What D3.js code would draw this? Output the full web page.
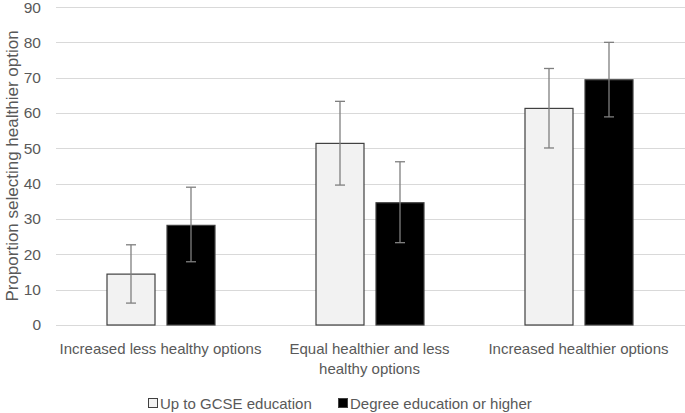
<!DOCTYPE html>
<html><head><meta charset="utf-8">
<script src="https://cdn.jsdelivr.net/npm/d3@7"></script>
<style>body{margin:0;background:#fff}svg{display:block}text{font-family:"Liberation Sans",Arial,sans-serif;fill:#595959}</style>
</head><body><svg id="c" width="685" height="413"></svg>
<script>
const categories = [["Increased less healthy options"], ["Equal healthier and less", "healthy options"], ["Increased healthier options"]];
const seriesNames = ["Up to GCSE education", "Degree education or higher"];
const gcse = [14.4, 51.4, 61.3];
const gcseLow = [6.2, 39.6, 50.1];
const gcseHigh = [22.7, 63.3, 72.6];
const degree = [28.2, 34.6, 69.4];
const degreeLow = [17.9, 23.3, 58.9];
const degreeHigh = [39.0, 46.2, 80.0];
const yTicks = [0,10,20,30,40,50,60,70,80,90];

const svg = d3.select("#c");
const m = {l:56, r:2, t:7, b:88};
const W = 685, H = 413;
const x = d3.scaleBand().domain(d3.range(categories.length)).range([m.l, W-m.r]);
const y = d3.scaleLinear().domain([0,90]).range([H-m.b, m.t]);
const x1 = d3.scaleBand().domain([0,1]).range([-54, 54]).paddingInner(0.2);

const fills = ["#f2f2f2", "#000000"];
const series = [
  {v:gcse, lo:gcseLow, hi:gcseHigh},
  {v:degree, lo:degreeLow, hi:degreeHigh}
];

// gridlines
svg.append("g").selectAll("line").data(yTicks).join("line")
  .attr("x1", m.l).attr("x2", W).attr("y1", d=>Math.round(y(d))+0.5).attr("y2", d=>Math.round(y(d))+0.5)
  .attr("stroke", "#d9d9d9").attr("stroke-width", 1);

// y tick labels
svg.append("g").selectAll("text").data(yTicks).join("text")
  .attr("x", 41).attr("y", d=>Math.max(y(d), 8)).attr("dy","0.35em").attr("text-anchor","end")
  .attr("font-size", 15.5).text(d=>d);

// y title
svg.append("text").attr("transform", `translate(18,${(m.t+H-m.b)/2}) rotate(-90)`)
  .attr("text-anchor","middle").attr("font-size", 17).text("Proportion selecting healthier option");

// bars
series.forEach((s, si) => {
  const g = svg.append("g");
  g.selectAll("rect").data(s.v).join("rect")
    .attr("x", (d,i)=>x(i)+x.bandwidth()/2 + x1(si) + 0.5)
    .attr("y", d=>y(d))
    .attr("width", x1.bandwidth())
    .attr("height", d=>y(0)-y(d))
    .attr("fill", fills[si]).attr("stroke", "#404040").attr("stroke-width", 1.2);
  const cx = i => x(i)+x.bandwidth()/2 + x1(si) + x1.bandwidth()/2 + 0.5;
  s.v.forEach((d,i)=>{
    const c = cx(i);
    g.append("line").attr("x1",c).attr("x2",c).attr("y1",y(s.lo[i])).attr("y2",y(s.hi[i])).attr("stroke","#7f7f7f").attr("stroke-width",1.3);
    [s.lo[i], s.hi[i]].forEach(e=>{
      g.append("line").attr("x1",c-5).attr("x2",c+5).attr("y1",y(e)).attr("y2",y(e)).attr("stroke","#7f7f7f").attr("stroke-width",1.3);
    });
  });
});

// x labels
categories.forEach((lines, i) => {
  const t = svg.append("text").attr("text-anchor","middle").attr("font-size",15);
  lines.forEach((ln, k) => {
    t.append("tspan").attr("x", x(i)+x.bandwidth()/2).attr("y", 354 + k*20).text(ln);
  });
});

// legend
const legX = [148, 338];
seriesNames.forEach((n, i) => {
  svg.append("rect").attr("x", legX[i]+0.5).attr("y", 398.5).attr("width", 9).attr("height", 9)
    .attr("fill", fills[i]).attr("stroke", "#404040");
  svg.append("text").attr("x", legX[i]+12).attr("y", 408.5).attr("font-size",15).text(n);
});
</script></body></html>
